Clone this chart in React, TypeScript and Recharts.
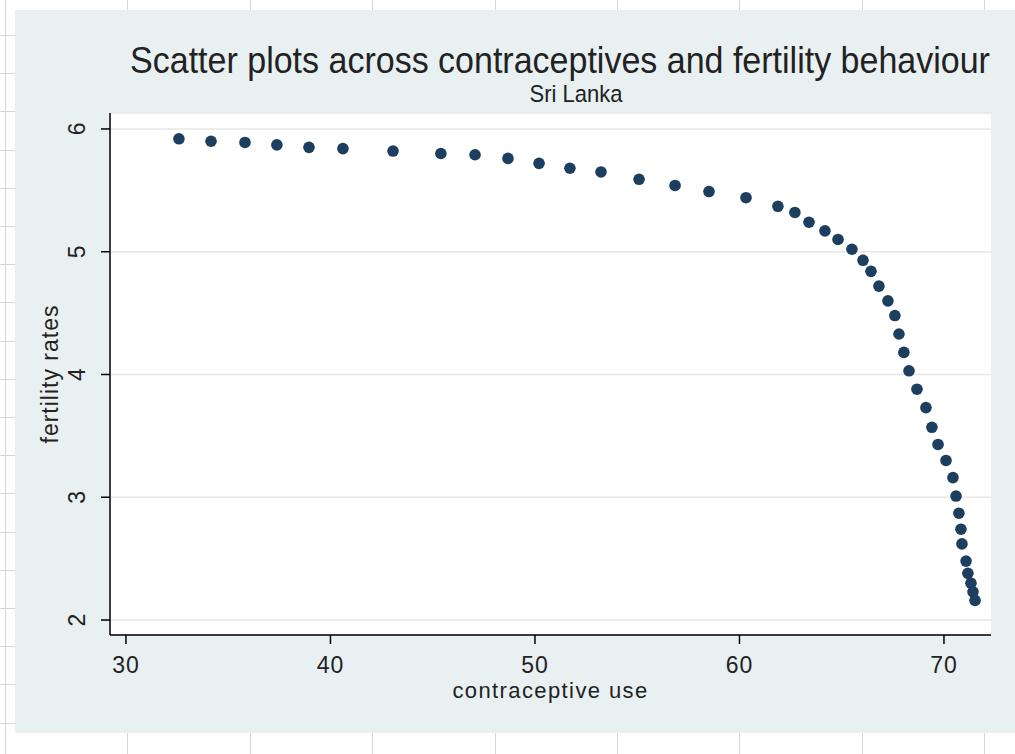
import React from 'react';
import { ScatterChart, Scatter, XAxis, YAxis, CartesianGrid, Label } from 'recharts';

const contraceptiveUse = [
  32.59, 34.16, 35.82, 37.38, 38.95, 40.61, 43.06, 45.4, 47.07, 48.68,
  50.2, 51.71, 53.23, 55.09, 56.85, 58.51, 60.32, 61.88, 62.71, 63.4,
  64.18, 64.82, 65.5, 66.04, 66.43, 66.82, 67.26, 67.6, 67.8, 68.04,
  68.29, 68.68, 69.12, 69.41, 69.71, 70.1, 70.44, 70.59, 70.73, 70.83,
  70.88, 71.08, 71.17, 71.32, 71.42, 71.52,
];
const fertilityRates = [
  5.92, 5.9, 5.89, 5.87, 5.85, 5.84, 5.82, 5.8, 5.79, 5.76,
  5.72, 5.68, 5.65, 5.59, 5.54, 5.49, 5.44, 5.37, 5.32, 5.24,
  5.17, 5.1, 5.02, 4.93, 4.84, 4.72, 4.6, 4.48, 4.33, 4.18,
  4.03, 3.88, 3.73, 3.57, 3.43, 3.3, 3.16, 3.01, 2.87, 2.74,
  2.62, 2.48, 2.38, 2.3, 2.23, 2.16,
];
const xTicks = [30, 40, 50, 60, 70];
const yTicks = [2, 3, 4, 5, 6];
const titleText = 'Scatter plots across contraceptives and fertility behaviour';
const subtitleText = 'Sri Lanka';
const xTitle = 'contraceptive use';
const yTitle = 'fertility rates';

const data = contraceptiveUse.map((x, i) => ({ x, y: fertilityRates[i] }));

const FONT = '"Liberation Sans", Arial, sans-serif';
const TEXT = '#222';
const MARK = '#1c3f5f';

const XTick = (p: any) => (
  <text x={p.x} y={p.y + 19} textAnchor="middle" dominantBaseline="central"
    fontFamily={FONT} fontSize={23} fill={TEXT} letterSpacing={1}>
    {p.payload.value}
  </text>
);

const YTick = (p: any) => {
  const cx = p.x - 22;
  const cy = p.y;
  return (
    <text x={cx} y={cy} textAnchor="middle" dominantBaseline="central"
      transform={`rotate(-90, ${cx}, ${cy})`}
      fontFamily={FONT} fontSize={23} fill={TEXT}>
      {p.payload.value}
    </text>
  );
};

const XTitle = (p: any) => {
  const vb = p.viewBox;
  const cx = vb.x + vb.width / 2;
  return (
    <text x={cx} y={690} textAnchor="middle" dominantBaseline="central"
      fontFamily={FONT} fontSize={22} fill={TEXT} letterSpacing={1.4}>
      {xTitle}
    </text>
  );
};

const YTitle = () => {
  const cx = 50;
  const cy = 374;
  return (
    <text x={cx} y={cy} textAnchor="middle" dominantBaseline="central"
      transform={`rotate(-90, ${cx}, ${cy})`}
      fontFamily={FONT} fontSize={23} fill={TEXT} letterSpacing={1}>
      {yTitle}
    </text>
  );
};

const Dot = (p: any) => <circle cx={p.cx} cy={p.cy} r={5.8} fill={MARK} />;

export default function App() {
  return (
    <div
      style={{
        position: 'fixed', left: 0, top: 0, width: 1015, height: 754, overflow: 'hidden',
        backgroundColor: '#ffffff',
        backgroundImage:
          'repeating-linear-gradient(to right, transparent 0px, transparent 5px, #d6d6d6 5px, #d6d6d6 6px, transparent 6px, transparent 122.4px), ' +
          'repeating-linear-gradient(to bottom, transparent 0px, transparent 35px, #d6d6d6 35px, #d6d6d6 36px, transparent 36px, transparent 38.2px)',
      }}
    >
      <div style={{ position: 'absolute', left: 15, top: 10, width: 1000, height: 723, background: '#e9f0f2' }} />
      <div
        style={{
          position: 'absolute', left: 110, width: 900, top: 40, textAlign: 'center',
          fontFamily: FONT, fontSize: 34, color: TEXT, lineHeight: '40px', whiteSpace: 'nowrap',
          transform: 'scaleY(1.08)',
        }}
      >
        {titleText}
      </div>
      <div
        style={{
          position: 'absolute', left: 126, width: 900, top: 81, textAlign: 'center',
          fontFamily: FONT, fontSize: 22, color: TEXT, lineHeight: '26px', whiteSpace: 'nowrap',
          transform: 'scaleY(1.12)',
        }}
      >
        {subtitleText}
      </div>
      <div style={{ position: 'absolute', left: 0, top: 0 }}>
        <ScatterChart width={1015} height={754} margin={{ top: 113, right: 24, bottom: 59, left: 30 }}>
          <CartesianGrid vertical={false} stroke="#e6e6e6" strokeWidth={1.5} fill="#ffffff" />
          <XAxis
            type="number" dataKey="x" domain={[29.22, 72.3]} ticks={xTicks} allowDataOverflow
            height={60} tickSize={9} tickMargin={2}
            axisLine={{ stroke: '#000', strokeWidth: 1.5 }} tickLine={{ stroke: '#000', strokeWidth: 1.5 }}
            tick={XTick}
          >
            <Label content={XTitle} />
          </XAxis>
          <YAxis
            type="number" dataKey="y" domain={[1.878, 6.13]} ticks={yTicks} allowDataOverflow
            width={80} tickSize={9} tickMargin={2}
            axisLine={{ stroke: '#000', strokeWidth: 1.5 }} tickLine={{ stroke: '#000', strokeWidth: 1.5 }}
            tick={YTick}
          >
            <Label content={YTitle} />
          </YAxis>
          <Scatter data={data} fill={MARK} shape={Dot} isAnimationActive={false} />
        </ScatterChart>
      </div>
    </div>
  );
}
